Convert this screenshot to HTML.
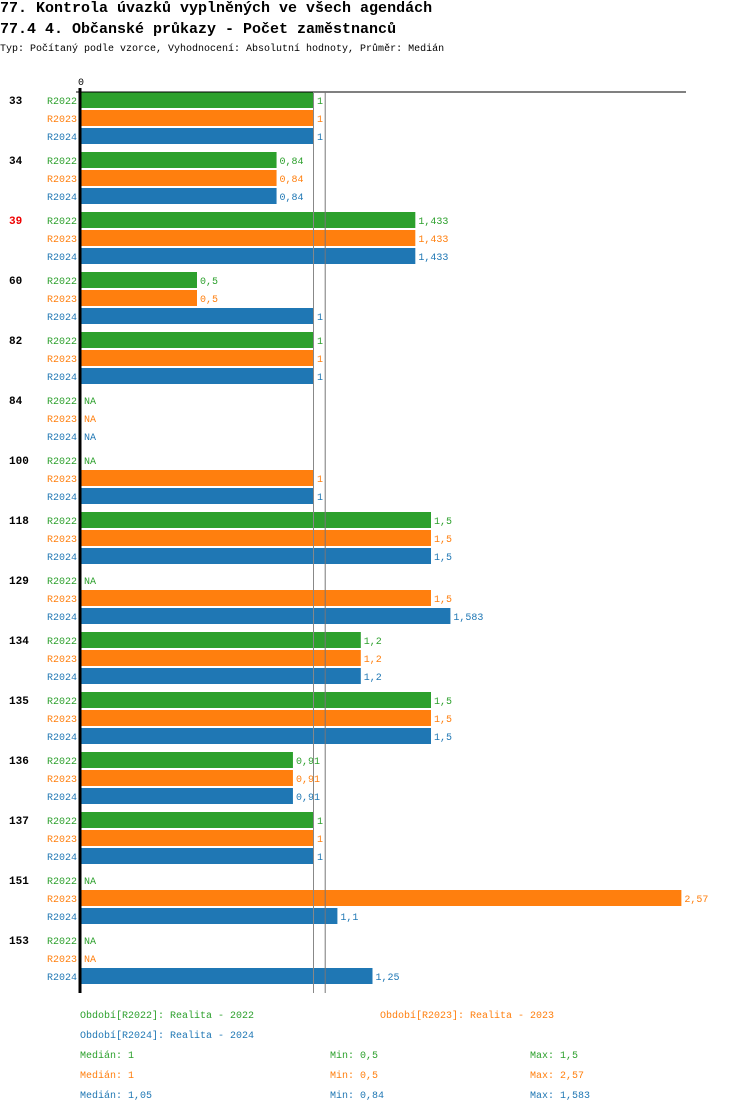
<!DOCTYPE html>
<html><head><meta charset="utf-8"><style>
body{margin:0;background:#fff;width:750px;height:1112px;overflow:hidden;font-family:"Liberation Mono","DejaVu Sans Mono",monospace;}
.t{position:absolute;left:0;white-space:nowrap;color:#000}
</style></head><body>
<div class="t" style="top:0;font-size:15px;font-weight:bold;">77. Kontrola úvazků vyplněných ve všech agendách</div>
<div class="t" style="top:21px;font-size:15px;font-weight:bold;">77.4 4. Občanské průkazy - Počet zaměstnanců</div>
<div class="t" style="top:44px;font-size:10px;">Typ: Počítaný podle vzorce, Vyhodnocení: Absolutní hodnoty, Průměr: Medián</div>
<svg id="c" width="750" height="1112" style="position:absolute;left:0;top:0" font-family="Liberation Mono, DejaVu Sans Mono, monospace" font-size="10"></svg>
<script>
const categories=["33","34","39","60","82","84","100","118","129","134","135","136","137","151","153"];
const highlighted=["39"];
const seriesNames=["R2022","R2023","R2024"];
const r2022=[1,0.84,1.433,0.5,1,null,null,1.5,null,1.2,1.5,0.91,1,null,null];
const r2023=[1,0.84,1.433,0.5,1,null,1,1.5,1.5,1.2,1.5,0.91,1,2.57,null];
const r2024=[1,0.84,1.433,1,1,null,1,1.5,1.583,1.2,1.5,0.91,1,1.1,1.25];
const medians=[1,1,1.05];
const mins=[0.5,0.5,0.84];
const maxs=[1.5,2.57,1.583];
const legendText=["Období[R2022]: Realita - 2022","Období[R2023]: Realita - 2023","Období[R2024]: Realita - 2024"];
const colors=["#2ca02c","#ff7f0e","#1f77b4"];
const ns="http://www.w3.org/2000/svg",svg=document.getElementById('c');
const x0=80,k=234,top0=100,gstep=60,rstep=18;
const xs=v=>x0+v*k;
const fmt=v=>String(v).replace('.',',');
function el(t,a,txt){const e=document.createElementNS(ns,t);for(const n in a)e.setAttribute(n,a[n]);if(txt!=null)e.textContent=txt;svg.appendChild(e);return e;}
const series=[r2022,r2023,r2024];
const bottom=top0+(categories.length-1)*gstep+2*rstep+17;
categories.forEach((c,i)=>{
  const gy=top0+i*gstep;
  const g=el('text',{x:9,y:gy+4,'font-weight':'bold','font-size':11,fill:highlighted.includes(c)?'#e00':'#000'},c);
  
  
  series.forEach((s,j)=>{
    const y=gy+j*rstep,v=s[i];
    const l=el('text',{x:77,y:y+4,'text-anchor':'end',fill:colors[j]},seriesNames[j]);
    
    
    if(v==null){
      const n=el('text',{x:84,y:y+4,fill:colors[j]},'NA');
      
      
    }else{
      const b=el('rect',{x:x0,y:y-8,width:xs(v)-x0,height:16,fill:colors[j]});
      
      
      const t=el('text',{x:xs(v)+3,y:y+4,fill:colors[j]},fmt(v));
      
      
    }
  });
});
const ax=el('line',{x1:76,y1:92,x2:686,y2:92,stroke:'#000','stroke-width':1});


const z=el('text',{x:78,y:85,fill:'#000'},'0');


medians.forEach((m,j)=>{if(j===0)return;
  const ml=el('line',{x1:xs(m)-0.5,y1:92,x2:xs(m)-0.5,y2:bottom,stroke:j===1?'#888':'#777','stroke-width':1});
  
  
});
const ya=el('line',{x1:80,y1:88,x2:80,y2:bottom,stroke:'#000','stroke-width':3});


[[80,1018],[380,1018],[80,1038]].forEach((p,j)=>{
  const t=el('text',{x:p[0],y:p[1],fill:colors[j]},legendText[j]);
  
  
});
[0,1,2].forEach(j=>{
  const y=1058+j*20;
  const a=el('text',{x:80,y:y,fill:colors[j]},'Medián: '+fmt(medians[j]));
  
  
  const b=el('text',{x:330,y:y,fill:colors[j]},'Min: '+fmt(mins[j]));
  
  
  const d=el('text',{x:530,y:y,fill:colors[j]},'Max: '+fmt(maxs[j]));
  
  
});
</script>
</body></html>
